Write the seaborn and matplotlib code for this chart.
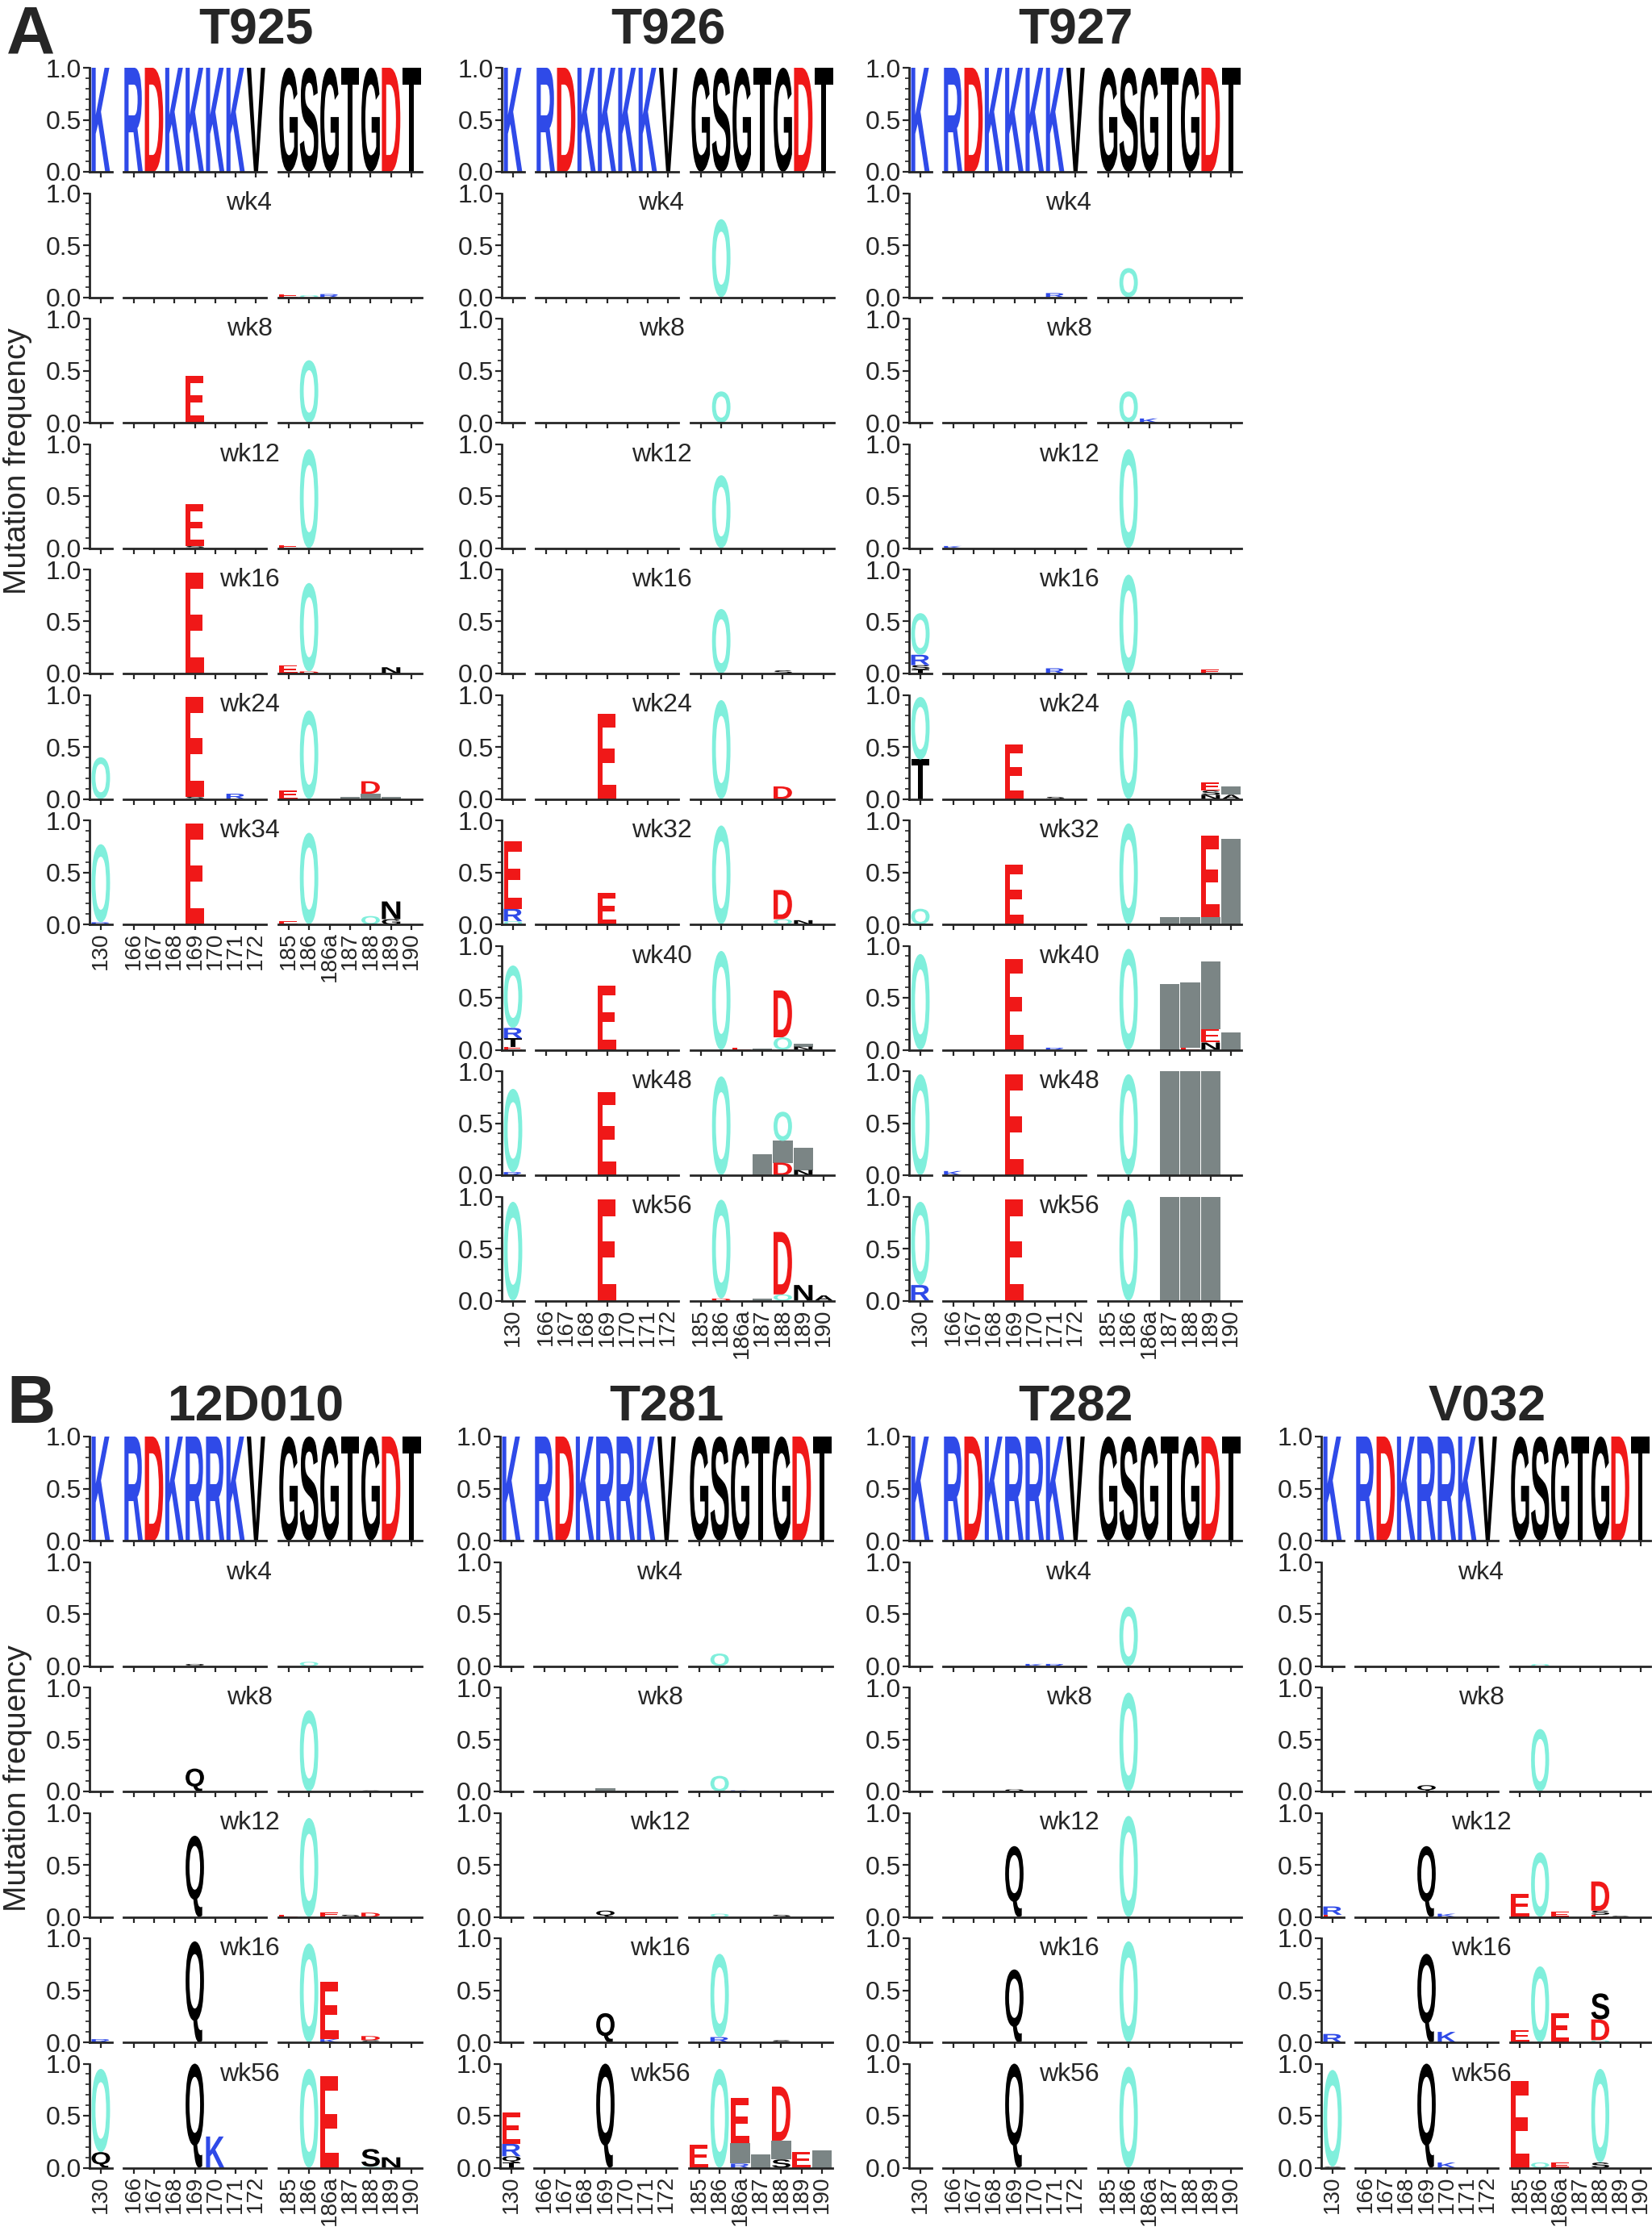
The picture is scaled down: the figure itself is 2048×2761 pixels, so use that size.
import matplotlib
matplotlib.use("Agg")
import matplotlib.pyplot as plt
import seaborn as sns
from matplotlib.textpath import TextPath
from matplotlib.font_manager import FontProperties
from matplotlib.patches import PathPatch, Rectangle
from matplotlib.transforms import Affine2D
from matplotlib.ticker import MultipleLocator

sns.set_style("ticks")
plt.rcParams["font.family"] = "Liberation Sans"

# ---------------- data ----------------
SEG0 = ["130"]
SEG1 = ["166", "167", "168", "169", "170", "171", "172"]
SEG2 = ["185", "186", "186a", "187", "188", "189", "190"]

HEADER_A = "KRDKKKKVGSGTGDT"
HEADER_B = "KRDKRRKVGSGTGDT"

# (position, residue, frequency) stacked bottom -> top; '#' = gray bar, 'O' = deletion
T925 = {
    "wk4": [("185", "E", 0.03), ("186", "O", 0.02), ("186a", "R", 0.03)],
    "wk8": [("169", "E", 0.45), ("186", "O", 0.6)],
    "wk12": [("169", "S", 0.02), ("169", "E", 0.4), ("185", "E", 0.03), ("186", "O", 0.95)],
    "wk16": [("169", "E", 0.97), ("185", "E", 0.08), ("186", "D", 0.02), ("186", "O", 0.85), ("189", "N", 0.06)],
    "wk24": [("130", "O", 0.4), ("169", "S", 0.02), ("169", "E", 0.96), ("171", "R", 0.05), ("185", "E", 0.08),
             ("186", "O", 0.85), ("187", "#", 0.02), ("188", "#", 0.05), ("188", "D", 0.12), ("189", "#", 0.02)],
    "wk34": [("130", "R", 0.02), ("130", "O", 0.75), ("169", "E", 0.97), ("185", "E", 0.03), ("186", "O", 0.88),
             ("188", "O", 0.08), ("189", "G", 0.05), ("189", "N", 0.17)],
}
T926 = {
    "wk4": [("186", "O", 0.75)],
    "wk8": [("186", "O", 0.3)],
    "wk12": [("186", "O", 0.7)],
    "wk16": [("186", "O", 0.62), ("188", "S", 0.03)],
    "wk24": [("169", "E", 0.82), ("186", "O", 0.95), ("188", "D", 0.12)],
    "wk32": [("130", "O", 0.03), ("130", "R", 0.12), ("130", "E", 0.65), ("169", "E", 0.3), ("186", "O", 0.95),
             ("188", "O", 0.05), ("188", "D", 0.28), ("189", "N", 0.04)],
    "wk40": [("130", "E", 0.03), ("130", "T", 0.08), ("130", "R", 0.1), ("130", "O", 0.6), ("169", "E", 0.62),
             ("186", "O", 0.95), ("186a", "E", 0.02), ("187", "#", 0.01), ("188", "O", 0.12), ("188", "D", 0.45),
             ("189", "N", 0.03), ("189", "#", 0.03)],
    "wk48": [("130", "R", 0.03), ("130", "O", 0.8), ("169", "E", 0.8), ("186", "O", 0.95), ("187", "#", 0.2),
             ("188", "D", 0.12), ("188", "#", 0.21), ("188", "O", 0.28), ("189", "N", 0.05), ("189", "#", 0.21)],
    "wk56": [("130", "O", 0.95), ("169", "E", 0.97), ("186", "D", 0.02), ("186", "O", 0.95), ("187", "#", 0.02),
             ("188", "O", 0.06), ("188", "D", 0.6), ("189", "N", 0.15), ("190", "A", 0.05)],
}
T927 = {
    "wk4": [("171", "R", 0.04), ("186", "O", 0.28)],
    "wk8": [("186", "O", 0.3), ("186a", "K", 0.04)],
    "wk12": [("166", "K", 0.02), ("186", "O", 0.95)],
    "wk16": [("130", "T", 0.04), ("130", "S", 0.04), ("130", "R", 0.1), ("130", "O", 0.4), ("171", "R", 0.05),
             ("186", "O", 0.95), ("189", "E", 0.04)],
    "wk24": [("130", "T", 0.38), ("130", "O", 0.6), ("169", "E", 0.52), ("171", "S", 0.02), ("186", "O", 0.95),
             ("189", "N", 0.04), ("189", "S", 0.04), ("189", "E", 0.08), ("190", "A", 0.04), ("190", "#", 0.08)],
    "wk32": [("130", "O", 0.15), ("169", "E", 0.57), ("186", "O", 0.97), ("187", "#", 0.07), ("188", "#", 0.07),
             ("189", "#", 0.07), ("189", "E", 0.78), ("190", "#", 0.82)],
    "wk40": [("130", "O", 0.92), ("169", "E", 0.87), ("171", "R", 0.02), ("186", "O", 0.97), ("187", "#", 0.63),
             ("188", "E", 0.02), ("188", "#", 0.63), ("189", "N", 0.07), ("189", "E", 0.13), ("189", "#", 0.65),
             ("190", "#", 0.17)],
    "wk48": [("130", "O", 0.97), ("166", "K", 0.04), ("169", "E", 0.97), ("186", "O", 0.97), ("187", "#", 1.0),
             ("188", "#", 1.0), ("189", "#", 1.0)],
    "wk56": [("130", "R", 0.15), ("130", "O", 0.8), ("169", "E", 0.97), ("186", "O", 0.97), ("187", "#", 1.0),
             ("188", "#", 1.0), ("189", "#", 1.0)],
}
D12D010 = {
    "wk4": [("169", "Q", 0.02), ("186", "O", 0.04)],
    "wk8": [("169", "Q", 0.22), ("186", "O", 0.78), ("188", "S", 0.01)],
    "wk12": [("169", "Q", 0.78), ("185", "E", 0.02), ("186", "O", 0.95), ("186a", "E", 0.04), ("187", "S", 0.02),
             ("188", "D", 0.04)],
    "wk16": [("130", "R", 0.03), ("169", "Q", 0.97), ("186", "O", 0.95), ("186a", "K", 0.03), ("186a", "E", 0.55),
             ("188", "S", 0.02), ("188", "D", 0.04)],
    "wk56": [("130", "Q", 0.15), ("130", "O", 0.8), ("169", "Q", 1.0), ("170", "K", 0.3), ("186", "O", 0.95),
             ("186a", "E", 0.88), ("188", "O", 0.01), ("188", "S", 0.17), ("189", "N", 0.1)],
}
T281 = {
    "wk4": [("186", "O", 0.12)],
    "wk8": [("169", "#", 0.03), ("170", "#", 0.01), ("171", "#", 0.01), ("172", "#", 0.01), ("185", "#", 0.01),
            ("186", "O", 0.15), ("186a", "K", 0.01)],
    "wk12": [("169", "Q", 0.06), ("186", "O", 0.03), ("188", "S", 0.02)],
    "wk16": [("169", "Q", 0.28), ("186", "R", 0.05), ("186", "O", 0.8), ("188", "S", 0.02)],
    "wk56": [("130", "T", 0.05), ("130", "Q", 0.06), ("130", "R", 0.12), ("130", "E", 0.3), ("169", "Q", 1.0),
             ("185", "E", 0.22), ("186", "O", 0.95), ("186a", "R", 0.04), ("186a", "#", 0.2), ("186a", "E", 0.43),
             ("187", "#", 0.13), ("188", "S", 0.08), ("188", "#", 0.18), ("188", "D", 0.52), ("189", "E", 0.15),
             ("190", "#", 0.17)],
}
T282 = {
    "wk4": [("170", "K", 0.02), ("171", "R", 0.02), ("186", "O", 0.57)],
    "wk8": [("130", "#", 0.01), ("169", "Q", 0.02), ("186", "O", 0.95)],
    "wk12": [("169", "Q", 0.68), ("186", "O", 0.97)],
    "wk16": [("169", "Q", 0.7), ("186", "O", 0.97)],
    "wk56": [("169", "Q", 1.0), ("186", "O", 0.97)],
}
V032 = {
    "wk4": [("186", "O", 0.02)],
    "wk8": [("169", "Q", 0.06), ("186", "O", 0.6)],
    "wk12": [("130", "E", 0.02), ("130", "R", 0.08), ("169", "Q", 0.68), ("170", "K", 0.03), ("185", "E", 0.22),
             ("186", "O", 0.62), ("186a", "E", 0.05), ("188", "E", 0.02), ("188", "S", 0.04), ("188", "D", 0.28),
             ("189", "S", 0.01)],
    "wk16": [("130", "R", 0.08), ("169", "Q", 0.85), ("170", "K", 0.1), ("185", "E", 0.12), ("186", "O", 0.73),
             ("186a", "E", 0.28), ("188", "O", 0.02), ("188", "D", 0.2), ("188", "S", 0.25)],
    "wk56": [("130", "S", 0.01), ("130", "O", 0.93), ("169", "Q", 1.0), ("170", "K", 0.05), ("185", "E", 0.83),
             ("186", "O", 0.05), ("186a", "E", 0.05), ("188", "S", 0.05), ("188", "O", 0.9)],
}

PANEL_A = [("T925", T925), ("T926", T926), ("T927", T927)]
PANEL_B = [("12D010", D12D010), ("T281", T281), ("T282", T282), ("V032", V032)]

COLORS = {"K": "#2f4ae8", "R": "#2f4ae8", "D": "#f01818", "E": "#f01818", "O": "#80efdc", "#": "#7b8585"}

# ---------------- drawing ----------------
FW, FH = 2048, 2761
fig = plt.figure(figsize=(FW / 100, FH / 100), dpi=100)
FP = FontProperties(family="Liberation Sans", weight="bold")
_cache = {}


def letter(ax, ch, xc, y0, h, width=0.9):
    col = COLORS.get(ch, "black")
    if ch == "#":
        ax.add_patch(Rectangle((xc - 0.48, y0), 0.96, h, color=col, lw=0, zorder=1, clip_on=False))
        return
    if ch not in _cache:
        tp = TextPath((0, 0), ch, size=1, prop=FP)
        _cache[ch] = (tp, tp.get_extents())
    tp, bb = _cache[ch]
    tr = Affine2D().translate(-bb.x0, -bb.y0).scale(width / bb.width, h / bb.height) \
        .translate(xc - width / 2, y0) + ax.transData
    ax.add_patch(PathPatch(tp, transform=tr, color=col, lw=0, zorder=2, clip_on=False))


def ax_px(x, top, w, h):
    return fig.add_axes([x / FW, 1 - (top + h) / FH, w / FW, h / FH])


def draw_cell(x0, top, h, stacks, last):
    segs = [(SEG0, 0, 28), (SEG1, 42, 177), (SEG2, 234, 178)]
    axes = []
    for i, (labels, off, w) in enumerate(segs):
        w = min(w, FW - 2 - (x0 + off))
        ax = ax_px(x0 + off, top, w, h)
        n = len(labels)
        ax.set_xlim(-0.55 if n == 1 else -0.5, 0.55 if n == 1 else n - 0.5)
        ax.set_ylim(0, 1.0)
        ax.patch.set_alpha(0)
        for s in ["top", "right"]:
            ax.spines[s].set_visible(False)
        ax.spines["bottom"].set_linewidth(2.0)
        ax.spines["bottom"].set_zorder(3)
        ax.set_xticks(range(n))
        ax.tick_params(axis="x", length=5, width=1.6, direction="out", pad=2)
        if last:
            ax.set_xticklabels(labels, rotation=90, fontsize=20)
        else:
            ax.set_xticklabels([])
        if i == 0:
            ax.spines["left"].set_linewidth(2.0)
            ax.set_yticks([0, 0.5, 1.0])
            ax.set_yticklabels(["0.0", "0.5", "1.0"], fontsize=23)
            ax.yaxis.set_minor_locator(MultipleLocator(0.1))
            ax.tick_params(axis="y", which="major", length=6, width=1.6, pad=1)
            ax.tick_params(axis="y", which="minor", length=3.5, width=1.2)
        else:
            ax.spines["left"].set_visible(False)
            ax.set_yticks([])
        axes.append((ax, labels))
    base = {}
    for pos, ch, f in stacks:
        for ax, labels in axes:
            if pos in labels:
                xi = labels.index(pos)
                y0 = base.get(pos, 0.0)
                letter(ax, ch, xi, y0, f)
                base[pos] = y0 + f


def header_stacks(seq):
    pos = SEG0 + SEG1 + SEG2
    return [(p, c, 1.0) for p, c in zip(pos, seq)]


PITCH, H = 155.5, 129


def draw_panel(panel, xs, top0, header, title_y):
    for (name, data), x0 in zip(panel, xs):
        fig.text((x0 + 206) / FW, 1 - title_y / FH, name, fontsize=45, fontweight="bold",
                 ha="center", va="center")
        draw_cell(x0, top0, H, header_stacks(header), False)
        weeks = list(data.keys())
        for r, wk in enumerate(weeks):
            top = top0 + (r + 1) * PITCH
            draw_cell(x0, top, H, data[wk], r == len(weeks) - 1)
            fig.text((x0 + 198) / FW, 1 - (top - 2) / FH, wk, fontsize=23, ha="center", va="top")


draw_panel(PANEL_A, [111, 622, 1127], 84, HEADER_A, 38)
draw_panel(PANEL_B, [111, 620, 1127, 1638], 1781, HEADER_B, 1745)

fig.text(8 / FW, 1 - 6 / FH, "A", fontsize=60, fontweight="bold", ha="left", va="top")
fig.text(8 / FW, 1 - 1703 / FH, "B", fontsize=60, fontweight="bold", ha="left", va="top")
fig.text(22 / FW, 1 - 572 / FH, "Mutation frequency", fontsize=28, rotation=90, ha="center", va="center")
fig.text(22 / FW, 1 - 2205 / FH, "Mutation frequency", fontsize=28, rotation=90, ha="center", va="center")

fig.savefig("out.png", dpi=100, facecolor="white")
